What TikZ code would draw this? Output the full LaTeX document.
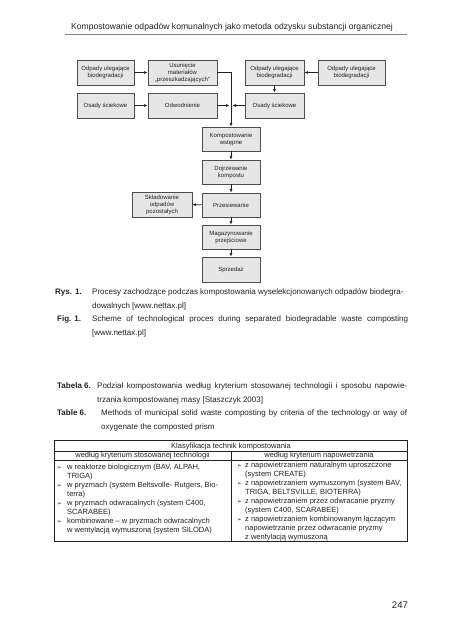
\documentclass[tikz,border=0pt]{standalone}
\usepackage{fontspec}
\setmainfont{Liberation Sans}
\newfontfamily\symfont{DejaVu Sans}
\usetikzlibrary{arrows.meta}
\definecolor{boxfill}{HTML}{E6E6E6}
\definecolor{boxline}{HTML}{4D4D4D}
\definecolor{txt}{HTML}{222222}
\newcommand{\pktl}{\makebox[10pt][l]{\symfont\fontsize{5.5}{9}\selectfont ➢}}
\newcommand{\pktp}{\makebox[8pt][l]{\symfont\fontsize{5.5}{9}\selectfont ➢}}

\begin{document}
\begin{tikzpicture}[x=1pt,y=-1pt]
                        \tikzstyle{blok}=[draw=boxline, fill=boxfill, line width=0.9pt, align=center, inner sep=1pt, text=txt, font=\fontsize{6}{7}\selectfont]
                        \tikzstyle{strz}=[draw=txt, line width=0.8pt, -{Latex[length=3.5pt,width=3pt]}]
                        \tikzstyle{podpis}=[anchor=base west, inner sep=0pt, align=left, text=txt, font=\fontsize{8}{13.5}\selectfont]
                        \tikzstyle{etykieta}=[anchor=base west, inner sep=0pt, text=txt, font=\fontsize{8}{13.5}\selectfont\bfseries]
                        \tikzstyle{tabela}=[anchor=base west, inner sep=0pt, align=left, text=txt, font=\fontsize{7.5}{9}\selectfont]
                        \useasboundingbox (0,0) rectangle (462,640);
                        \fill[white] (0,0) rectangle (462,640);
                        % naglowek strony
                        \node[text=txt, font=\fontsize{8.6}{10}\selectfont] (naglowek) at (232,27) {Kompostowanie odpadów komunalnych jako metoda odzysku substancji organicznej};
                        \draw[gray, line width=0.7pt] (65,34) -- (407,34);
                        % schemat
                        \node[blok, minimum width=57pt, minimum height=25pt] (odpady1) at (105.5,72.5) {Odpady ulegające\\biodegradacji};
                        \node[blok, minimum width=69pt, minimum height=25pt] (usuniecie) at (182.5,72.5) {Usunięcie\\materiałów\\„przeszkadzających”};
                        \node[blok, minimum width=59pt, minimum height=25pt] (odpady2) at (274.5,72.5) {Odpady ulegające\\biodegradacji};
                        \node[blok, minimum width=67pt, minimum height=25pt] (odpady3) at (351.5,72.5) {Odpady ulegające\\biodegradacji};
                        \node[blok, minimum width=57pt, minimum height=25pt] (osady1) at (105.5,105.5) {Osady ściekowe};
                        \node[blok, minimum width=69pt, minimum height=25pt] (odwodnienie) at (182.5,105.5) {Odwodnienie};
                        \node[blok, minimum width=59pt, minimum height=25pt] (osady2) at (274.5,105.5) {Osady ściekowe};
                        \coordinate (wezel) at (231,105.5);
                        \node[blok, minimum width=58pt, minimum height=24pt] (kompost) at (231,139) {Kompostowanie\\wstępne};
                        \node[blok, minimum width=58pt, minimum height=24pt] (dojrzewanie) at (231,172) {Dojrzewanie\\kompostu};
                        \node[blok, minimum width=58pt, minimum height=24pt] (przesiew) at (231,205) {Przesiewanie};
                        \node[blok, minimum width=60pt, minimum height=25pt] (skladowanie) at (162,204.5) {Składowanie\\odpadów\\pozostałych};
                        \node[blok, minimum width=58pt, minimum height=24pt] (magazyn) at (231,237) {Magazynowanie\\przejściowe};
                        \node[blok, minimum width=58pt, minimum height=25pt] (sprzedaz) at (231,269.5) {Sprzedaż};
                        \draw[strz] (odpady1) -- (usuniecie);
                        \draw[strz] (osady1) -- (odwodnienie);
                        \draw[strz] (odpady3) -- (odpady2);
                        \draw[strz] (odpady2) -- (osady2);
                        \draw[strz] (usuniecie.east) -| (kompost.north);
                        \draw[strz, shorten >=1.5pt] (odwodnienie.east) -- (wezel);
                        \draw[strz, shorten >=1.5pt] (osady2.west) -- (wezel);
                        \draw[strz] (kompost) -- (dojrzewanie);
                        \draw[strz] (dojrzewanie) -- (przesiew);
                        \draw[strz] (przesiew) -- (magazyn);
                        \draw[strz] (magazyn) -- (sprzedaz);
                        \draw[strz] (przesiew) -- (skladowanie);
                        % podpisy (base = ostatnia linia)
                        \node[etykieta] (rys) at (55,294.8) {Rys. 1.};
                        \node[podpis] (rystekst) at (92,308.3) {Procesy zachodzące podczas kompostowania wyselekcjonowanych odpadów biodegra-\\dowalnych [www.nettax.pl]};
                        \node[etykieta] (fig) at (57,321.8) {Fig. 1.};
                        \node[podpis] (figtekst) at (92,335.3) {\makebox[316pt][s]{Scheme of technological proces during separated biodegradable waste composting}\\{[}www.nettax.pl{]}};
                        \node[etykieta] (tab) at (57,388.8) {Tabela 6.};
                        \node[podpis] (tabtekst) at (97,402.3) {\makebox[310pt][s]{Podział kompostowania według kryterium stosowanej technologii i sposobu napowie-}\\trzania kompostowanej masy [Staszczyk 2003]};
                        \node[etykieta] (table) at (57,415.8) {Table 6.};
                        \node[podpis] (tabletekst) at (101,429.3) {\makebox[306pt][s]{Methods of municipal solid waste composting by criteria of the technology or way of}\\oxygenate the composted prism};
                        % tabela
                        \draw[txt, line width=0.8pt] (54,440.5) rectangle (407,541);
                        \draw[txt, line width=0.6pt] (54,451) -- (407,451);
                        \draw[txt, line width=0.6pt] (54,460) -- (407,460);
                        \draw[txt, line width=0.6pt] (231,451) -- (231,541);
                        \node[tabela, anchor=base] (klasyfikacja) at (231,448) {Klasyfikacja technik kompostowania};
                        \node[tabela, anchor=base] (technologia) at (142.5,457.5) {według kryterium stosowanej technologii};
                        \node[tabela, anchor=base] (napowietrzanie) at (319,457.5) {według kryterium napowietrzania};
                        \node[tabela] (lewa) at (57,532.5) {\pktl w reaktorze biologicznym (BAV, ALPAH,\\
                            \hspace*{10pt}TRIGA)\\
                            \pktl w pryzmach (system Beltsvolle- Rutgers, Bio-\\
                            \hspace*{10pt}terra)\\
                            \pktl w pryzmach odwracalnych (system C400,\\
                            \hspace*{10pt}SCARABEE)\\
                            \pktl kombinowane – w pryzmach odwracalnych\\
                            \hspace*{10pt}w wentylacją wymuszoną (system SILODA)};
                        \node[tabela] (prawa) at (237,539) {\pktp z napowietrzaniem naturalnym uproszczone\\
                            \hspace*{8pt}(system CREATE)\\
                            \pktp z napowietrzaniem wymuszonym (system BAV,\\
                            \hspace*{8pt}TRIGA, BELTSVILLE, BIOTERRA)\\
                            \pktp z napowietrzaniem przez odwracanie pryzmy\\
                            \hspace*{8pt}(system C400, SCARABEE)\\
                            \pktp z napowietrzaniem kombinowanym łączącym\\
                            \hspace*{8pt}napowietrzanie przez odwracanie pryzmy\\
                            \hspace*{8pt}z wentylacją wymuszoną};
                        % numer strony
                        \node[text=txt, font=\fontsize{9.6}{11}\selectfont] (strona) at (400,605) {247};
                    \end{tikzpicture}
\end{document}
